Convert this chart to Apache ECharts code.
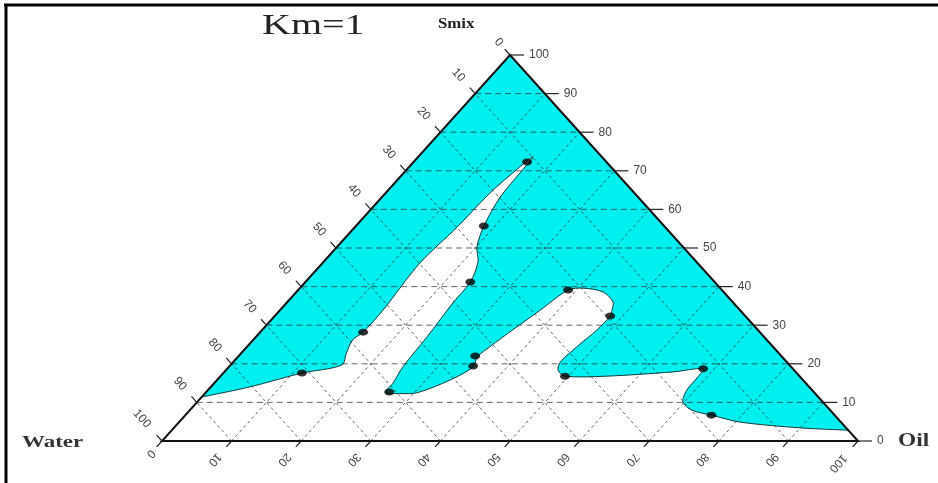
<!DOCTYPE html>
<html lang="en">
<head>
<meta charset="UTF-8">
<title>Km=1</title>
<script src="https://cdn.jsdelivr.net/npm/echarts@6/dist/echarts.min.js"></script>
<style>
  html, body { margin: 0; background: #fff; }
  #chart { width: 938px; height: 483px; }
</style>
</head>
<body>
<div id="chart"></div>
<script>
// tick values on all three sides (percent)
const ticks = [0, 10, 20, 30, 40, 50, 60, 70, 80, 90, 100];
const tickLabels = ticks.map(String);

// experimental points (oil %, smix %), water = rest
const dotOil  = [11.3, 14.8, 16.3, 18.4, 23.7, 26.3, 35.0, 34.0, 38.8, 48.2, 49.5, 68.4, 75.6];
const dotSmix = [17.6, 28.2, 72.3, 55.7, 41.2, 12.7, 19.4, 22.0, 39.1, 32.4, 16.8, 18.7, 6.7];

// phase boundary, from the water side to the oil side
const edgeOil  = [0.0, 5.6, 11.3, 16.0, 15.1, 14.3, 14.8, 14.8, 14.0, 14.7, 15.0, 15.9, 16.5,
                  17.0, 18.4, 20.1, 22.2, 23.7, 23.9, 24.6, 25.0, 25.7, 25.8,
                  28.0, 30.4, 33.5, 35.1, 34.4, 34.9, 36.0, 37.4, 38.8,
                  40.7, 44.1, 46.8, 47.7, 48.2, 48.1, 47.4, 47.0, 47.7, 49.5,
                  55.5, 64.5, 68.4, 68.7, 68.8, 69.8, 72.1, 75.6, 80.6, 90.0, 97.2];
const edgeSmix = [11.4, 14.0, 17.6, 19.7, 22.8, 26.2, 28.2, 33.9, 46.1, 55.4, 64.2, 71.0, 73.6,
                  63.2, 55.7, 50.3, 46.4, 41.2, 35.8, 26.9, 19.2, 15.0, 12.6,
                  12.3, 12.5, 15.8, 19.2, 21.8, 24.4, 28.8, 33.9, 39.1,
                  39.6, 38.6, 36.0, 33.9, 32.4, 28.8, 24.4, 20.5, 18.4, 16.8,
                  16.8, 17.9, 18.7, 16.3, 13.2, 10.1, 8.0, 6.7, 4.9, 3.4, 2.8];

const CYAN = '#00efef';

// ternary (oil, smix) -> plane (x, y) of the cartesian grid
function tern(oil, smix) {
    return [oil + smix / 2, smix];
}

let chart = echarts.init(document.getElementById('chart'));

function renderTriangle(params, api) {
    const pts = [tern(0, 100), tern(100, 0), tern(0, 0)].map(p => api.coord(p));
    return { type: 'polygon', shape: { points: pts }, style: { fill: CYAN }, z2: 1 };
}

function renderWhite(params, api) {
    const curve = edgeOil.map((o, i) => api.coord(tern(o, edgeSmix[i])));
    const first = curve[0], last = curve[curve.length - 1];
    const br = api.coord(tern(100, 0)), bl = api.coord(tern(0, 0));
    // doubled corners keep the straight sides straight
    const pts = curve.concat([last, br, br, bl, bl, first]);
    pts.unshift(first);
    return { type: 'polygon', shape: { points: pts, smooth: 0.3 }, style: { fill: '#fff' }, z2: 2 };
}

function renderGrid(params, api) {
    const kids = [];
    const line = (a, b, dash) => kids.push({
        type: 'line',
        shape: { x1: a[0], y1: a[1], x2: b[0], y2: b[1] },
        style: { stroke: '#333', lineWidth: 1, lineDash: dash, opacity: 0.75 }
    });
    ticks.slice(1, -1).forEach(k => {
        line(api.coord(tern(0, k)), api.coord(tern(100 - k, k)), [6, 4]);       // smix
        line(api.coord(tern(k, 0)), api.coord(tern(k, 100 - k)), [3, 3]);       // oil
        line(api.coord(tern(100 - k, 0)), api.coord(tern(0, 100 - k)), [3, 3]); // water
    });
    return { type: 'group', children: kids };
}

function renderBoundary(params, api) {
    const pts = edgeOil.map((o, i) => api.coord(tern(o, edgeSmix[i])));
    return { type: 'polyline', shape: { points: pts, smooth: 0.3 },
             style: { stroke: '#123c3c', lineWidth: 1, fill: null }, z2: 3 };
}

function renderFrame(params, api) {
    const apex = api.coord(tern(0, 100)), bl = api.coord(tern(0, 0)), br = api.coord(tern(100, 0));
    const unit = (a, b) => { const dx = b[0] - a[0], dy = b[1] - a[1], l = Math.hypot(dx, dy); return [dx / l, dy / l]; };
    const dLeft = unit(br, apex);    // out of the left side
    const dBottom = unit(apex, bl);  // out of the base
    const rotLeft = -Math.atan2(-dLeft[1], -dLeft[0]);
    const rotBottom = -Math.atan2(dBottom[1], dBottom[0]);
    const kids = [{
        type: 'polygon', shape: { points: [apex, br, bl] },
        style: { fill: null, stroke: '#111', lineWidth: 2 }
    }];
    const tick = (e, d, len) => kids.push({
        type: 'line', shape: { x1: e[0], y1: e[1], x2: e[0] + d[0] * len, y2: e[1] + d[1] * len },
        style: { stroke: '#222', lineWidth: 1.2 }
    });
    const label = (txt, x, y, rot, align) => kids.push({
        type: 'text', x: x, y: y, rotation: rot,
        style: { text: txt, fill: '#444', font: '12px "Liberation Sans"',
                 align: align, verticalAlign: 'middle' }
    });
    ticks.forEach((t, i) => {
        const txt = tickLabels[i];
        const off = txt.length === 1 ? 17 : (txt.length === 3 ? 30 : 25);
        // water (left side, 0 at the top)
        let e = api.coord(tern(0, 100 - t));
        tick(e, dLeft, 8);
        label(txt, e[0] + dLeft[0] * off, e[1] + dLeft[1] * off, rotLeft, 'center');
        // oil (base)
        e = api.coord(tern(t, 0));
        tick(e, dBottom, 8);
        label(txt, e[0] + dBottom[0] * off, e[1] + dBottom[1] * off, rotBottom, 'center');
        // smix (right side)
        e = api.coord(tern(100 - t, t));
        tick(e, [1, 0], 14);
        label(txt, e[0] + 19, e[1], 0, 'left');
    });
    return { type: 'group', children: kids, z2: 5 };
}

const one = [[0, 0]];
const custom = (fn, z) => ({ type: 'custom', data: one, renderItem: fn, clip: false, silent: true, z: z });

let option = {
    animation: false,
    grid: { left: 162, right: 80, top: 55, bottom: 42 },
    xAxis: { type: 'value', min: 0, max: 100, show: false },
    yAxis: { type: 'value', min: 0, max: 100, show: false },
    graphic: [
        { type: 'line', shape: { x1: 6, y1: 4, x2: 6, y2: 483 }, style: { stroke: '#000', lineWidth: 3 } },
        { type: 'line', shape: { x1: 4, y1: 5, x2: 938, y2: 5 }, style: { stroke: '#000', lineWidth: 3 } },
        { type: 'text', x: 262, y: 12, scaleX: 1.38,
          style: { text: 'Km=1', font: '29px "Liberation Serif"', fill: '#222' } },
        { type: 'text', x: 438, y: 17, scaleX: 1.2,
          style: { text: 'Smix', font: 'bold 14px "Liberation Serif"', fill: '#222' } },
        { type: 'text', x: 22, y: 434, scaleX: 1.35,
          style: { text: 'Water', font: 'bold 17px "Liberation Serif"', fill: '#333' } },
        { type: 'text', x: 898, y: 432, scaleX: 1.3,
          style: { text: 'Oil', font: 'bold 18px "Liberation Serif"', fill: '#333' } }
    ],
    series: [
        custom(renderTriangle, 1),
        custom(renderWhite, 2),
        custom(renderGrid, 3),
        custom(renderBoundary, 4),
        custom(renderFrame, 5),
        {
            type: 'scatter',
            z: 6,
            symbol: 'circle',
            symbolSize: [10, 7],
            itemStyle: { color: '#000' },
            data: dotOil.map((o, i) => tern(o, dotSmix[i]))
        }
    ]
};

chart.setOption(option);
</script>
</body>
</html>
